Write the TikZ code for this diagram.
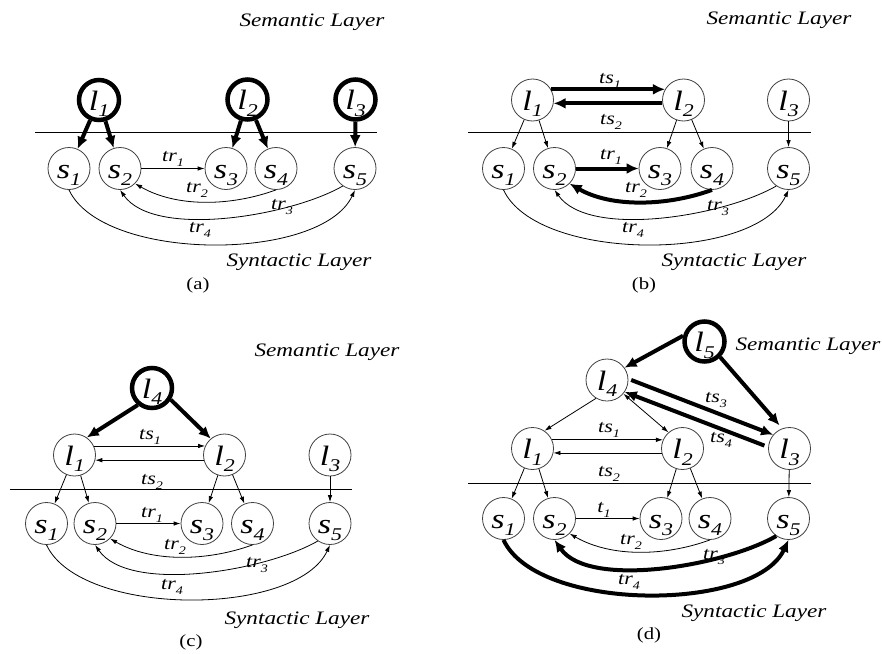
\documentclass[tikz,border=0pt]{standalone}
\usepackage{fontspec}
\setmainfont{Liberation Serif}[FakeStretch=1.22]
\usetikzlibrary{arrows.meta}
% subscript index, set small and slightly lowered
\newcommand\sbx[1]{\raisebox{-0.24em}{\scalebox{0.64}{#1}}}
\newcommand\ndfont{\fontsize{28}{30}\selectfont\itshape}
\newcommand\lbfont{\fontsize{18}{20}\selectfont\itshape}
\newcommand\lyfont{\fontsize{19}{21}\selectfont\itshape}
\newcommand\pnfont{\fontsize{17}{19}\selectfont}
\begin{document}
\begin{tikzpicture}[x=1pt,y=1pt,
  snode/.style={circle, draw=black!75, line width=0.8pt, minimum size=42pt,
    inner sep=0pt, font=\ndfont, text height=20pt, text depth=0pt},
  hl/.style={snode, draw=black, line width=4.5pt, minimum size=40pt},
  lnk/.style={line width=0.8pt, -{Latex[length=7pt,width=4.5pt]}},
  lnkb/.style={line width=0.8pt, {Latex[length=7pt,width=4.5pt]}-{Latex[length=7pt,width=4.5pt]}},
  hvy/.style={line width=4pt, -{Latex[length=12pt,width=11pt]}},
  layerline/.style={line width=0.8pt},
  layer/.style={font=\lyfont, inner sep=0pt},
  lab/.style={font=\lbfont, inner sep=0pt},
  pnl/.style={font=\pnfont, inner sep=0pt},
  trtwo/.style={out=200, in=-30, out distance=48pt, in distance=48pt},
  trthree/.style={out=210, in=-55, out distance=60pt, in distance=60pt},
  trfour/.style={out=-65, in=-115, out distance=80pt, in distance=80pt},
]
\useasboundingbox[fill=white] (0,0) rectangle (882,-653);

% ---------------- panel (a) ----------------
\node[hl] (a-l1) at (99,-100) {l\sbx{1}};
\node[hl] (a-l2) at (247.5,-99.5) {l\sbx{2}};
\node[hl] (a-l3) at (355.5,-99.5) {l\sbx{3}};
\node[snode] (a-s1) at (69,-168.5) {s\sbx{1}};
\node[snode] (a-s2) at (120,-168.5) {s\sbx{2}};
\node[snode] (a-s3) at (226,-168.5) {s\sbx{3}};
\node[snode] (a-s4) at (276,-168.5) {s\sbx{4}};
\node[snode] (a-s5) at (355,-168.5) {s\sbx{5}};
\coordinate (a-w) at (35,-132);
\coordinate (a-e) at (377,-132);
\draw[layerline] (a-w) -- (a-e);
\node[layer] (a-sem) at (312,-22) {Semantic Layer};
\node[layer] (a-syn) at (299,-262) {Syntactic Layer};
\node[pnl] (a-cap) at (198,-285) {(a)};
\node[lab] (a-tr1) at (173,-159) {tr\sbx{1}};
\node[lab] (a-tr2) at (197,-190) {tr\sbx{2}};
\node[lab] (a-tr3) at (282,-207) {tr\sbx{3}};
\node[lab] (a-tr4) at (200,-230) {tr\sbx{4}};
\draw[hvy] (a-l1) -- (a-s1);
\draw[hvy] (a-l1) -- (a-s2);
\draw[hvy] (a-l2) -- (a-s3);
\draw[hvy] (a-l2) -- (a-s4);
\draw[hvy] (a-l3) -- (a-s5);
\draw[lnk] (a-s2) -- (a-s3);
\draw[lnk] (a-s4.-90) to[trtwo] (a-s2.-45);
\draw[lnk] (a-s5.-125) to[trthree] (a-s2.-90);
\draw[lnk] (a-s1.-90) to[trfour] (a-s5.-90);

% ---------------- panel (b) ----------------
\node[snode] (b-l1) at (532.5,-100) {l\sbx{1}};
\node[snode] (b-l2) at (683.5,-100) {l\sbx{2}};
\node[snode] (b-l3) at (788.5,-100) {l\sbx{3}};
\node[snode] (b-s1) at (503.5,-168.5) {s\sbx{1}};
\node[snode] (b-s2) at (554.5,-168.5) {s\sbx{2}};
\node[snode] (b-s3) at (660,-168.5) {s\sbx{3}};
\node[snode] (b-s4) at (712,-168.5) {s\sbx{4}};
\node[snode] (b-s5) at (788.5,-168.5) {s\sbx{5}};
\coordinate (b-w) at (468,-132);
\coordinate (b-e) at (811,-132);
\draw[layerline] (b-w) -- (b-e);
\node[layer] (b-sem) at (779,-20) {Semantic Layer};
\node[layer] (b-syn) at (734,-262) {Syntactic Layer};
\node[pnl] (b-cap) at (644,-285) {(b)};
\node[lab] (b-ts1) at (610,-81) {ts\sbx{1}};
\node[lab] (b-ts2) at (611,-122) {ts\sbx{2}};
\node[lab] (b-tr1) at (611,-157) {tr\sbx{1}};
\node[lab] (b-tr2) at (636,-190) {tr\sbx{2}};
\node[lab] (b-tr3) at (718,-208) {tr\sbx{3}};
\node[lab] (b-tr4) at (633,-230) {tr\sbx{4}};
\draw[hvy] (b-l1.30) -- (b-l2.150);
\draw[hvy] (b-l2.189) -- (b-l1.-9);
\draw[lnk] (b-l1) -- (b-s1);
\draw[lnk] (b-l1) -- (b-s2);
\draw[lnk] (b-l2) -- (b-s3);
\draw[lnk] (b-l2) -- (b-s4);
\draw[lnk] (b-l3) -- (b-s5);
\draw[hvy] (b-s2) -- (b-s3);
\draw[hvy] (b-s4.-90) to[trtwo] (b-s2.-45);
\draw[lnk] (b-s5.-125) to[trthree] (b-s2.-90);
\draw[lnk] (b-s1.-90) to[trfour] (b-s5.-90);

% ---------------- panel (c) ----------------
\node[hl] (c-l4) at (152,-388) {l\sbx{4}};
\node[snode] (c-l1) at (74.5,-455) {l\sbx{1}};
\node[snode] (c-l2) at (224.5,-455) {l\sbx{2}};
\node[snode] (c-l3) at (330,-455) {l\sbx{3}};
\node[snode] (c-s1) at (46.5,-523.5) {s\sbx{1}};
\node[snode] (c-s2) at (95,-523.5) {s\sbx{2}};
\node[snode] (c-s3) at (202,-523.5) {s\sbx{3}};
\node[snode] (c-s4) at (252.5,-523.5) {s\sbx{4}};
\node[snode] (c-s5) at (330,-523.5) {s\sbx{5}};
\coordinate (c-w) at (10,-489);
\coordinate (c-e) at (352,-489);
\draw[layerline] (c-w) -- (c-e);
\node[layer] (c-sem) at (327,-352) {Semantic Layer};
\node[layer] (c-syn) at (297,-620) {Syntactic Layer};
\node[pnl] (c-cap) at (191,-642) {(c)};
\node[lab] (c-ts1) at (150,-437) {ts\sbx{1}};
\node[lab] (c-ts2) at (152,-482) {ts\sbx{2}};
\node[lab] (c-tr1) at (152,-515) {tr\sbx{1}};
\node[lab] (c-tr2) at (175,-547) {tr\sbx{2}};
\node[lab] (c-tr3) at (257,-565) {tr\sbx{3}};
\node[lab] (c-tr4) at (172,-587) {tr\sbx{4}};
\draw[hvy] (c-l4.-130) -- (c-l1.55);
\draw[hvy] (c-l4.-32) -- (c-l2.130);
\draw[lnk] (c-l1.25) -- (c-l2.155);
\draw[lnk] (c-l2.194) -- (c-l1.-14);
\draw[lnk] (c-l1) -- (c-s1);
\draw[lnk] (c-l1) -- (c-s2);
\draw[lnk] (c-l2) -- (c-s3);
\draw[lnk] (c-l2) -- (c-s4);
\draw[lnk] (c-l3) -- (c-s5);
\draw[lnk] (c-s2) -- (c-s3);
\draw[lnk] (c-s4.-90) to[trtwo] (c-s2.-45);
\draw[lnk] (c-s5.-125) to[trthree] (c-s2.-90);
\draw[lnk] (c-s1.-90) to[trfour] (c-s5.-90);

% ---------------- panel (d) ----------------
\node[hl] (d-l5) at (704.5,-341.5) {l\sbx{5}};
\node[snode] (d-l4) at (607,-380) {l\sbx{4}};
\node[snode] (d-l1) at (532.5,-448.5) {l\sbx{1}};
\node[snode] (d-l2) at (682.5,-448.5) {l\sbx{2}};
\node[snode] (d-l3) at (789.5,-448.5) {l\sbx{3}};
\node[snode] (d-s1) at (503.5,-518.5) {s\sbx{1}};
\node[snode] (d-s2) at (554.5,-518.5) {s\sbx{2}};
\node[snode] (d-s3) at (661,-518.5) {s\sbx{3}};
\node[snode] (d-s4) at (710,-518.5) {s\sbx{4}};
\node[snode] (d-s5) at (788.5,-518.5) {s\sbx{5}};
\coordinate (d-w) at (468,-483);
\coordinate (d-e) at (811,-483);
\draw[layerline] (d-w) -- (d-e);
\node[layer] (d-sem) at (808,-346) {Semantic Layer};
\node[layer] (d-syn) at (754,-613) {Syntactic Layer};
\node[pnl] (d-cap) at (649,-635) {(d)};
\node[lab] (d-ts1) at (609,-430) {ts\sbx{1}};
\node[lab] (d-ts2) at (609,-474) {ts\sbx{2}};
\node[lab] (d-ts3) at (716,-400) {ts\sbx{3}};
\node[lab] (d-ts4) at (721,-440) {ts\sbx{4}};
\node[lab] (d-t1) at (604,-510) {t\sbx{1}};
\node[lab] (d-tr2) at (631,-542) {tr\sbx{2}};
\node[lab] (d-tr3) at (714,-557) {tr\sbx{3}};
\node[lab] (d-tr4) at (629,-582) {tr\sbx{4}};
\draw[hvy] (d-l5.165) -- (d-l4.35);
\draw[hvy, shorten >=4pt] (d-l5.-45) -- (d-l3.110);
\draw[hvy, shorten <=3pt] (d-l4.3) -- (d-l3.140);
\draw[hvy, shorten <=4pt] (d-l3.176) -- (d-l4.-34);
\draw[lnk] (d-l4.-121) -- (d-l1.56);
\draw[lnkb] (d-l4.-40) -- (d-l2.131);
\draw[lnk] (d-l1.24) -- (d-l2.156);
\draw[lnk] (d-l2.192) -- (d-l1.-12);
\draw[lnk] (d-l1) -- (d-s1);
\draw[lnk] (d-l1) -- (d-s2);
\draw[lnk] (d-l2) -- (d-s3);
\draw[lnk] (d-l2) -- (d-s4);
\draw[lnk] (d-l3) -- (d-s5);
\draw[lnk] (d-s2) -- (d-s3);
\draw[lnk] (d-s4.-90) to[trtwo] (d-s2.-45);
\draw[hvy] (d-s5.-125) to[trthree] (d-s2.-90);
\draw[hvy] (d-s1.-90) to[trfour] (d-s5.-90);
\end{tikzpicture}
\end{document}
